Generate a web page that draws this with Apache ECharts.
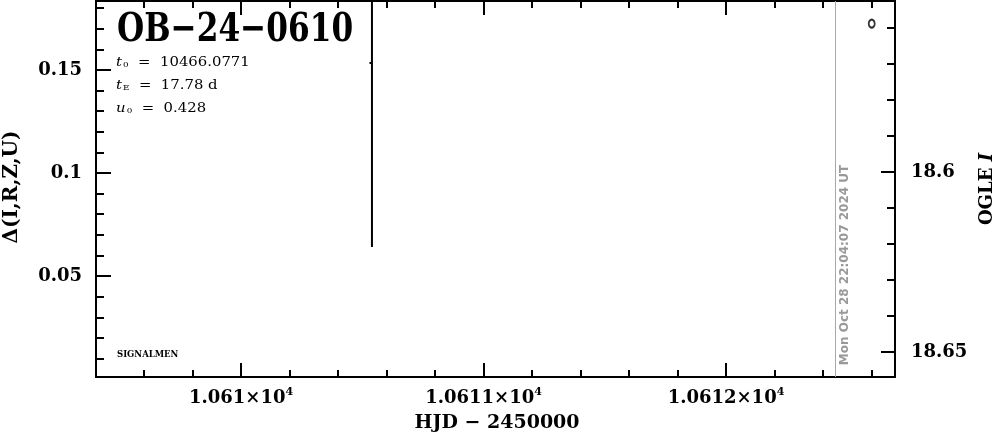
<!DOCTYPE html>
<html>
<head>
<meta charset="utf-8">
<script src="https://cdn.jsdelivr.net/npm/echarts@6/dist/echarts.min.js"></script>
<style>html,body{margin:0;padding:0;background:#fff}#c{width:999px;height:434px}</style>
</head>
<body>
<div id="c"></div>
<script>
// ---- data ----
const eventName = 'OB\u221224\u22120610';
const paramLines = [['t', '0', '10466.0771'], ['t', 'E', '17.78 d'], ['u', '0', '0.428']];
const nowLabel = 'Mon Oct 28 22:04:07 2024 UT';
const nowHjd = 10612.454;
const ogleHjd = [10610.540];
const ogleMag = [18.5697];
const ogleErr = [0.0511];
const extraHjd = [10612.601];
const extraMag = [18.5588];
const xRange = [10609.402, 10612.697];
const xMajorTicks = [10610, 10611, 10612];
const xMinorTicks = [10609.6, 10609.8, 10610.2, 10610.4, 10610.6, 10610.8, 10611.2, 10611.4, 10611.6, 10611.8, 10612.2, 10612.4, 10612.6];
const leftRange = [0.001, 0.1835];
const leftMajorTicks = [0.05, 0.1, 0.15];
const leftMinorTicks = [0.01, 0.02, 0.03, 0.04, 0.06, 0.07, 0.08, 0.09, 0.11, 0.12, 0.13, 0.14, 0.16, 0.17, 0.18];
const rightRange = [18.5525, 18.6569];
const rightMajorTicks = [18.6, 18.65];
const rightMinorTicks = [18.56, 18.57, 18.58, 18.59, 18.61, 18.62, 18.63, 18.64];

const FONT = 'DejaVu Serif';
const lab = {color: '#000', fontFamily: FONT, fontWeight: 'bold', fontSize: 18};
const axLine = {show: true, lineStyle: {color: '#000', width: 2}};

function xAx(pos, ticks, len, labels) {
  return {
    type: 'value', position: pos, min: xRange[0], max: xRange[1],
    axisLine: labels || pos === 'top' ? axLine : {show: false},
    axisTick: {show: true, inside: true, length: len, customValues: ticks, lineStyle: {color: '#000', width: 2}},
    axisLabel: labels ? {
      show: true, customValues: ticks, margin: 10,
      formatter: v => '{a|' + parseFloat((v / 1e4).toFixed(6)) + '\u00d710}{s|4}',
      rich: {a: Object.assign({}, lab, {lineHeight: 22}), s: Object.assign({}, lab, {fontSize: 11, lineHeight: 22, verticalAlign: 'top', padding: [0, 0, 8, 0]})}
    } : {show: false},
    splitLine: {show: false}
  };
}
function yAx(pos, range, ticks, len, labels, inverse, margin, main) {
  return {
    type: 'value', position: pos, min: range[0], max: range[1], inverse: !!inverse,
    axisLine: main ? axLine : {show: false},
    axisTick: {show: true, inside: true, length: len, customValues: ticks, lineStyle: {color: '#000', width: 2}},
    axisLabel: labels ? Object.assign({show: true, customValues: ticks, margin: margin,
      formatter: v => String(parseFloat(v.toFixed(4)))}, lab) : {show: false},
    splitLine: {show: false}
  };
}

const chart = echarts.init(document.getElementById('c'), null, {renderer: 'canvas'});

const paramTexts = paramLines.map((p, i) => ({
  type: 'text', x: 116, y: 62 + i * 23, scaleX: 1.1,
  style: {
    text: '{i|' + p[0] + '}{s|' + p[1] + '}{n|  =  ' + p[2] + '}',
    verticalAlign: 'middle',
    rich: {
      i: {fontFamily: FONT, fontStyle: 'italic', fontSize: 13.5, fill: '#000'},
      s: {fontFamily: FONT, fontSize: 8, fill: '#000', verticalAlign: 'bottom', padding: [6, 0, 0, 1]},
      n: {fontFamily: FONT, fontSize: 13.5, fill: '#000'}
    }
  }
}));

chart.setOption({
  animation: false,
  backgroundColor: '#fff',
  grid: {left: 96, right: 104, top: 1, bottom: 57, outerBoundsMode: 'none'},
  xAxis: [
    xAx('bottom', xMajorTicks, 14, true),
    xAx('bottom', xMinorTicks, 7, false),
    xAx('top', xMajorTicks, 14, false),
    xAx('top', xMinorTicks, 7, false)
  ],
  yAxis: [
    yAx('left', leftRange, leftMajorTicks, 15, true, false, 14, true),
    yAx('left', leftRange, leftMinorTicks, 8, false, false, 0, false),
    yAx('right', rightRange, rightMajorTicks, 14, true, true, 16, true),
    yAx('right', rightRange, rightMinorTicks, 8, false, true, 0, false)
  ],
  series: [
    {
      type: 'custom', xAxisIndex: 0, yAxisIndex: 2,
      data: ogleHjd.map((x, i) => [x, ogleMag[i], ogleErr[i]]),
      renderItem: (params, api) => {
        const cs = params.coordSys;
        const x = api.value(0), y = api.value(1), e = api.value(2);
        const p = api.coord([x, y]);
        const a = api.coord([x, y - e]), b = api.coord([x, y + e]);
        const clamp = v => Math.max(cs.y, Math.min(cs.y + cs.height, v));
        return {type: 'group', children: [
          {type: 'line', shape: {x1: p[0], y1: clamp(a[1]), x2: p[0], y2: clamp(b[1])}, style: {stroke: '#000', lineWidth: 2}},
          {type: 'line', shape: {x1: p[0] - 2.5, y1: p[1], x2: p[0], y2: p[1]}, style: {stroke: '#000', lineWidth: 2}}
        ]};
      }
    },
    {
      type: 'scatter', xAxisIndex: 0, yAxisIndex: 2,
      data: extraHjd.map((x, i) => [x, extraMag[i]]),
      symbol: 'emptyCircle', symbolSize: [6, 8],
      itemStyle: {color: '#000', borderColor: '#000', borderWidth: 2.5},
      markLine: {
        silent: true, symbol: 'none', label: {show: false},
        lineStyle: {color: '#a8a8a8', width: 1, type: 'solid'},
        data: [{xAxis: nowHjd}]
      }
    }
  ],
  graphic: [
    {type: 'text', x: 117, y: 31, scaleX: 0.78, style: {text: eventName, fontFamily: FONT, fontWeight: 'bold', fontSize: 40, fill: '#000', verticalAlign: 'middle'}},
    ...paramTexts,
    {type: 'text', x: 117, y: 355, style: {text: 'SIGNALMEN', fontFamily: FONT, fontSize: 8.5, fontWeight: 'bold', fill: '#000', verticalAlign: 'middle'}},
    {type: 'text', x: 845, y: 265, rotation: Math.PI / 2, style: {text: nowLabel, fontFamily: 'DejaVu Sans', fontWeight: 'bold', fontSize: 12, fill: '#999', align: 'center', verticalAlign: 'middle'}},
    {type: 'text', x: 12, y: 187, rotation: Math.PI / 2, style: {text: '\u0394(I,R,Z,U)', fontFamily: FONT, fontWeight: 'bold', fontSize: 20, fill: '#000', align: 'center', verticalAlign: 'middle'}},
    {type: 'text', x: 987, y: 189, rotation: Math.PI / 2, style: {
      text: '{a|OGLE }{b|I}', align: 'center', verticalAlign: 'middle',
      rich: {a: {fontFamily: FONT, fontWeight: 'bold', fontSize: 18, fill: '#000'}, b: {fontFamily: FONT, fontWeight: 'bold', fontStyle: 'italic', fontSize: 18, fill: '#000'}}
    }},
    {type: 'text', x: 497, y: 423, style: {text: 'HJD \u2212 2450000', fontFamily: FONT, fontWeight: 'bold', fontSize: 19, fill: '#000', align: 'center', verticalAlign: 'middle'}}
  ]
});
</script>
</body>
</html>
